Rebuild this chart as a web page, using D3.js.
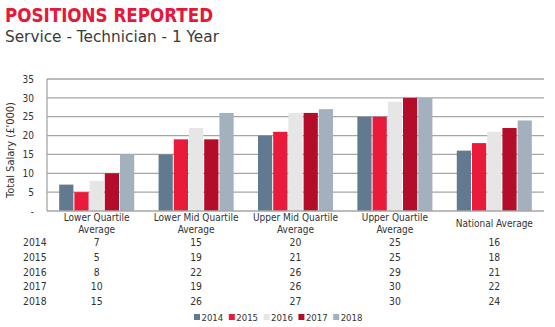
<!DOCTYPE html>
<html><head><meta charset="utf-8">
<script src="https://cdn.jsdelivr.net/npm/d3@7"></script>
<style>body{margin:0;background:#fff}svg{display:block}text{font-family:"DejaVu Sans Condensed","DejaVu Sans",sans-serif}</style>
</head><body><svg id="c" width="555" height="327"></svg>
<script>
const categories = [["Lower Quartile","Average"],["Lower Mid Quartile","Average"],["Upper Mid Quartile","Average"],["Upper Quartile","Average"],["National Average"]];
const years = ["2014","2015","2016","2017","2018"];
const v2014 = [7,15,20,25,16];
const v2015 = [5,19,21,25,18];
const v2016 = [8,22,26,29,21];
const v2017 = [10,19,26,30,22];
const v2018 = [15,26,27,30,24];
const series = [v2014,v2015,v2016,v2017,v2018];
const colors = ["#627a8f","#ea1a3b","#e6e6e6","#b30d29","#a3b1bf"];
const yTicks = [0,5,10,15,20,25,30,35];

const svg = d3.select("#c");
const L=47,R=544,T=79,B=211;
const x0 = d3.scaleBand().domain(d3.range(5)).range([L,R]).paddingInner(0.235).paddingOuter(0.1175);
const x1 = d3.scaleBand().domain(d3.range(5)).range([0,x0.bandwidth()]);
const y = d3.scaleLinear().domain([0,35]).range([B,T]);

svg.append("text").attr("x",5).attr("y",22).attr("fill","#e8173a").attr("font-weight","bold").attr("font-size",18.6).text("POSITIONS REPORTED");
svg.append("text").attr("x",5).attr("y",42).attr("fill","#3a3a3a").attr("font-size",15.3).style("font-family","'DejaVu Sans',sans-serif").text("Service - Technician - 1 Year");

// grid
svg.append("g").selectAll("line").data(yTicks.filter(d=>d>0)).join("line")
 .attr("x1",L).attr("x2",R).attr("y1",d=>y(d)).attr("y2",d=>y(d)).attr("stroke","#a6a6a6").attr("stroke-width",1.3);

const yAxis = d3.axisLeft(y).tickValues(yTicks).tickSize(0).tickPadding(13).tickFormat(d=>d===0?"-":d);
const ga = svg.append("g").attr("transform",`translate(${L},0)`).call(yAxis);
ga.select(".domain").remove();
ga.selectAll("text").attr("font-size",10).attr("fill","#333").style("font-family","'DejaVu Sans Condensed',sans-serif");

svg.append("text").attr("transform",`translate(14,150) rotate(-90)`).attr("text-anchor","middle").attr("font-size",11).attr("fill","#333").text("Total Salary (£'000)");

// bars
const g = svg.append("g");
categories.forEach((c,i)=>{
  series.forEach((s,j)=>{
    g.append("rect").attr("x",x0(i)+x1(j)+0.5).attr("width",x1.bandwidth()-1)
     .attr("y",y(s[i])).attr("height",B-y(s[i])).attr("fill",colors[j]);
  });
});

// axis lines
svg.append("line").attr("x1",L).attr("x2",L).attr("y1",T).attr("y2",B).attr("stroke","#a6a6a6").attr("stroke-width",1.3);
svg.append("line").attr("x1",L).attr("x2",R).attr("y1",B).attr("y2",B).attr("stroke","#a6a6a6").attr("stroke-width",1.3);

// category labels
categories.forEach((c,i)=>{
  const cx = x0(i)+x0.bandwidth()/2;
  const t = svg.append("text").attr("text-anchor","middle").attr("font-size",10).attr("fill","#333");
  const y0 = c.length===1 ? 227 : 221;
  c.forEach((line,k)=>t.append("tspan").attr("x",cx).attr("y",y0+k*11.5).text(line));
});

// table
const rowY = [246,261,275.5,290,304.5];
years.forEach((yr,j)=>{
  svg.append("text").attr("x",23).attr("y",rowY[j]).attr("font-size",10.3).attr("fill","#333").text(yr);
  series[j].forEach((v,i)=>{
    svg.append("text").attr("x",x0(i)+x0.bandwidth()/2).attr("y",rowY[j]).attr("text-anchor","middle").attr("font-size",10.3).attr("fill","#333").text(v);
  });
});

// legend
const lg = svg.append("g");
years.forEach((yr,j)=>{
  const lx = 194 + j*34.8;
  lg.append("rect").attr("x",lx).attr("y",314).attr("width",6).attr("height",6).attr("fill",colors[j]);
  lg.append("text").attr("x",lx+7.5).attr("y",320.5).attr("font-size",9.5).attr("fill","#333").text(yr);
});
</script></body></html>
